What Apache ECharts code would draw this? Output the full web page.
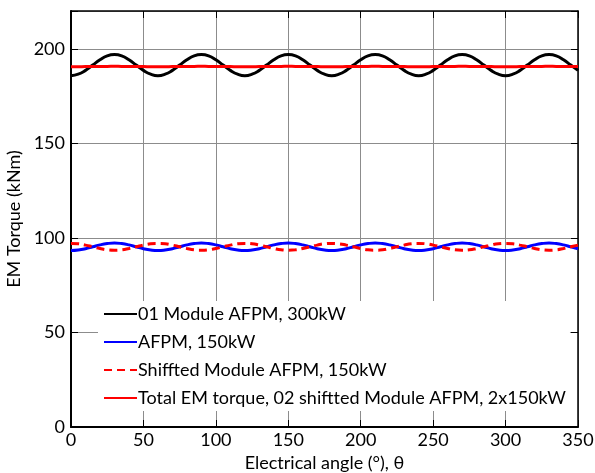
<!DOCTYPE html>
<html><head><meta charset="utf-8">
<script src="https://cdn.jsdelivr.net/npm/echarts@6/dist/echarts.min.js"></script>
<style>html,body{margin:0;padding:0;background:#fff}#c{width:595px;height:473px}</style>
</head><body><div id="c"></div>
<script>
var angles = [0,5,10,15,20,25,30,35,40,45,50,55,60,65,70,75,80,85,90,95,100,105,110,115,120,125,130,135,140,145,150,155,160,165,170,175,180,185,190,195,200,205,210,215,220,225,230,235,240,245,250,255,260,265,270,275,280,285,290,295,300,305,310,315,320,325,330,335,340,345,350];
var oneModule = [185.8,186.6,188.6,191.4,194.2,196.3,197.0,196.3,194.2,191.4,188.6,186.6,
185.8,186.6,188.6,191.4,194.2,196.3,197.0,196.3,194.2,191.4,188.6,186.6,
185.8,186.6,188.6,191.4,194.2,196.3,197.0,196.3,194.2,191.4,188.6,186.6,
185.8,186.6,188.6,191.4,194.2,196.3,197.0,196.3,194.2,191.4,188.6,186.6,
185.8,186.6,188.6,191.4,194.2,196.3,197.0,196.3,194.2,191.4,188.6,186.6,
185.8,186.6,188.6,191.4,194.2,196.3,197.0,196.3,194.2,191.4,188.6];
var afpm = [93.3,93.6,94.3,95.3,96.3,97.0,97.3,97.0,96.3,95.3,94.3,93.6,
93.3,93.6,94.3,95.3,96.3,97.0,97.3,97.0,96.3,95.3,94.3,93.6,
93.3,93.6,94.3,95.3,96.3,97.0,97.3,97.0,96.3,95.3,94.3,93.6,
93.3,93.6,94.3,95.3,96.3,97.0,97.3,97.0,96.3,95.3,94.3,93.6,
93.3,93.6,94.3,95.3,96.3,97.0,97.3,97.0,96.3,95.3,94.3,93.6,
93.3,93.6,94.3,95.3,96.3,97.0,97.3,97.0,96.3,95.3,94.3];
var shifted = [97.1,96.9,96.2,95.3,94.4,93.7,93.5,93.7,94.4,95.3,96.2,96.9,
97.1,96.9,96.2,95.3,94.4,93.7,93.5,93.7,94.4,95.3,96.2,96.9,
97.1,96.9,96.2,95.3,94.4,93.7,93.5,93.7,94.4,95.3,96.2,96.9,
97.1,96.9,96.2,95.3,94.4,93.7,93.5,93.7,94.4,95.3,96.2,96.9,
97.1,96.9,96.2,95.3,94.4,93.7,93.5,93.7,94.4,95.3,96.2,96.9,
97.1,96.9,96.2,95.3,94.4,93.7,93.5,93.7,94.4,95.3,96.2];
var total = [190.5,190.5,190.6,190.6,190.7,190.7,190.8,190.7,190.7,190.6,190.6,190.5,
190.5,190.5,190.6,190.6,190.7,190.7,190.8,190.7,190.7,190.6,190.6,190.5,
190.5,190.5,190.6,190.6,190.7,190.7,190.8,190.7,190.7,190.6,190.6,190.5,
190.5,190.5,190.6,190.6,190.7,190.7,190.8,190.7,190.7,190.6,190.6,190.5,
190.5,190.5,190.6,190.6,190.7,190.7,190.8,190.7,190.7,190.6,190.6,190.5,
190.5,190.5,190.6,190.6,190.7,190.7,190.8,190.7,190.7,190.6,190.6];
var seriesNames = ['01 Module AFPM, 300kW','AFPM, 150kW','Shiffted Module AFPM, 150kW','Total EM torque, 02 shiftted Module AFPM, 2x150kW'];
var xTicks = [0,50,100,150,200,250,300,350];
var yTicks = [0,50,100,150,200];

function pairs(ys){ return angles.map(function(a,i){ return [a, ys[i]]; }); }
var font = 'Lato, "Open Sans", sans-serif';
var chart = echarts.init(document.getElementById('c'), null, {renderer:'canvas'});
var lineSeries = function(name, data, color, type, z){
  return {name:name, type:'line', data:pairs(data), showSymbol:false, symbol:'none', smooth:true, z:z,
    lineStyle:{color:color, width:3, type:type}, itemStyle:{color:color}};
};
chart.setOption({
  animation:false,
  grid:{left:71, right:17, top:11, bottom:46, show:false, containLabel:false, outerBoundsMode:'none'},
  legend:{
    orient:'vertical', left:98, top:301, itemWidth:33, itemHeight:12, itemGap:10,
    backgroundColor:'#fff', padding:[4,4,4,5],
    itemStyle:{opacity:0, borderWidth:0},
    textStyle:{fontFamily:font, fontSize:18, color:'#000', padding:[0,0,0,-4]},
    data:seriesNames,
    z:1
  },
  xAxis:[{
    type:'value', min:0, max:350, interval:50, position:'bottom',
    name:'Electrical angle (°), θ', nameLocation:'middle', nameGap:27,
    nameTextStyle:{fontFamily:font, fontSize:18, color:'#000'},
    axisLine:{show:true, onZero:false, lineStyle:{color:'#000', width:2}},
    axisTick:{show:true, inside:true, length:7, lineStyle:{color:'#000'}},
    axisLabel:{fontFamily:font, fontSize:18, color:'#000', margin:4,
      formatter:function(v){ return xTicks.indexOf(v)>=0 ? String(v) : ''; }},
    splitLine:{show:true, lineStyle:{color:'#8c8c8c', width:1}}
  },{
    type:'value', min:0, max:350, interval:50, position:'top',
    axisLine:{show:true, onZero:false, lineStyle:{color:'#000', width:1.5}},
    axisTick:{show:true, inside:true, length:7, lineStyle:{color:'#000'}},
    axisLabel:{show:false}, splitLine:{show:false}
  }],
  yAxis:[{
    type:'value', min:0, max:220, interval:50, position:'left',
    name:'EM Torque (kNm)', nameLocation:'middle', nameGap:43,
    nameTextStyle:{fontFamily:font, fontSize:18, color:'#000'},
    axisLine:{show:true, onZero:false, lineStyle:{color:'#000', width:2}},
    axisTick:{show:true, inside:true, length:7, lineStyle:{color:'#000'}},
    axisLabel:{fontFamily:font, fontSize:18, color:'#000', margin:6,
      formatter:function(v){ return yTicks.indexOf(v)>=0 ? String(v) : ''; }},
    splitLine:{show:true, lineStyle:{color:'#8c8c8c', width:1}}
  },{
    type:'value', min:0, max:220, interval:50, position:'right',
    axisLine:{show:true, onZero:false, lineStyle:{color:'#000', width:1.5}},
    axisTick:{show:true, inside:true, length:7, lineStyle:{color:'#000'}},
    axisLabel:{show:false}, splitLine:{show:false}
  }],
  series:[
    lineSeries(seriesNames[0], oneModule, '#000000', 'solid', 3),
    lineSeries(seriesNames[1], afpm, '#0000ff', 'solid', 3),
    lineSeries(seriesNames[2], shifted, '#ff0000', [8,5], 4),
    lineSeries(seriesNames[3], total, '#ff0000', 'solid', 4)
  ]
});
</script></body></html>
